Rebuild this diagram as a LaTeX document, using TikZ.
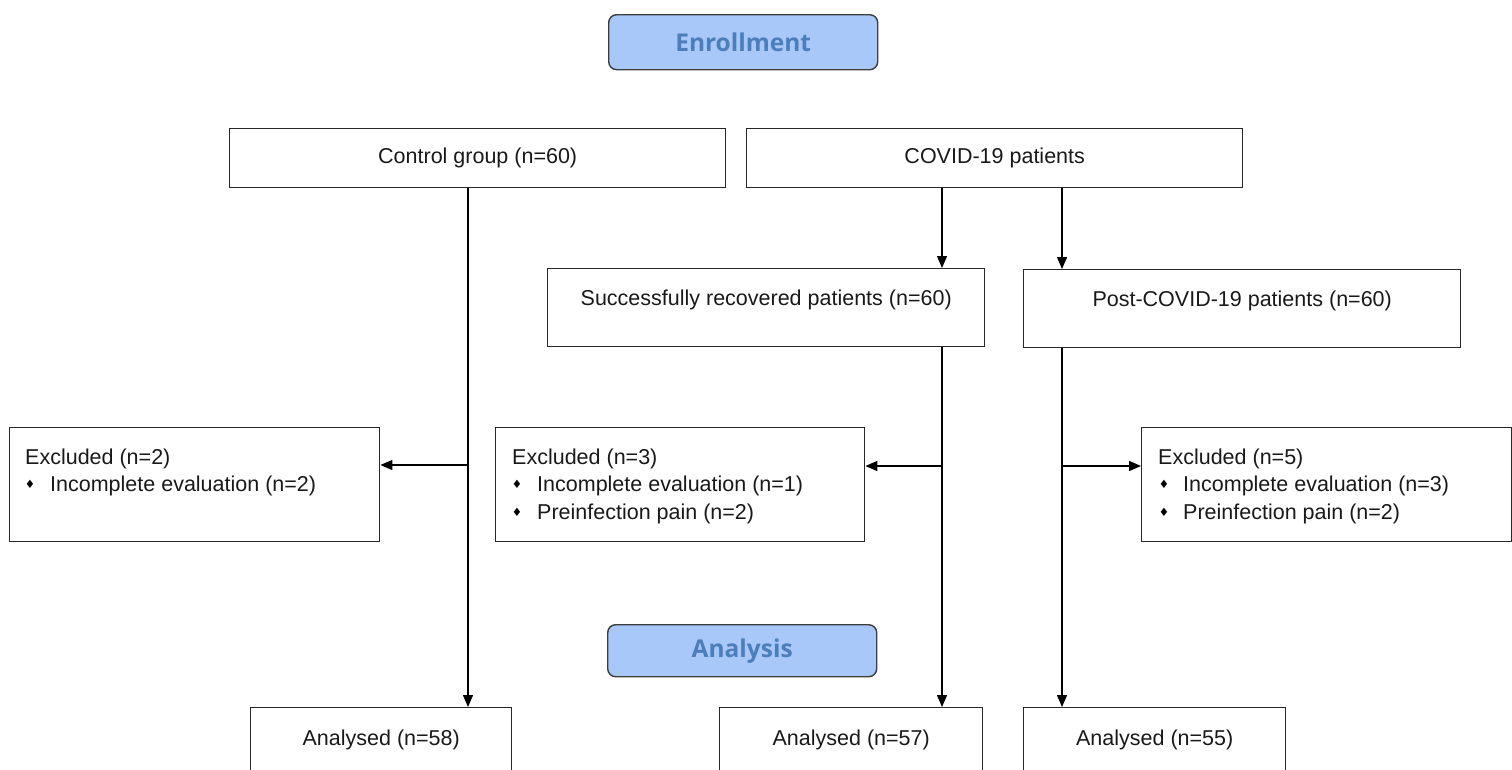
\documentclass[tikz,border=0pt]{standalone}
\usepackage{fontspec}
\setmainfont{Liberation Sans}
\newfontfamily\phasefamily{Open Sans}
\newfontfamily\dejavufam{DejaVu Sans}
\usetikzlibrary{arrows.meta,calc}
\definecolor{phasefill}{RGB}{168,200,249}
\definecolor{phasetext}{RGB}{76,126,186}
\definecolor{boxline}{RGB}{40,40,40}
\definecolor{maintext}{RGB}{25,25,25}
\newcommand\mainfs{\fontsize{21.5}{26}\selectfont}
\newcommand\bulletmark{{\dejavufam\fontsize{11.5}{12}\selectfont ♦}}
\begin{document}
\begin{tikzpicture}[x=1pt,y=-1pt,
  box/.style={draw=boxline, line width=1.4pt, inner sep=0pt, anchor=north west, font=\mainfs, text=maintext},
  phase/.style={draw=boxline!90, line width=1.4pt, fill=phasefill, rounded corners=8pt,
     inner sep=0pt, anchor=north west, text=phasetext, font=\phasefamily\bfseries\fontsize{24.5}{28}\selectfont},
  txt/.style={inner sep=0pt, anchor=base west, font=\mainfs, text=maintext},
  bul/.style={inner sep=0pt, anchor=center},
  arr/.style={draw=black, line width=1.4pt, -{Triangle[length=12pt,width=10pt]}},
  ln/.style={draw=black, line width=1.4pt}]
\useasboundingbox (0,0) rectangle (1512,769);
\clip (0,0) rectangle (1512,769);

% phase headers
\node[phase, minimum width=269pt, minimum height=55pt] (enr) at (608,14) {Enrollment};
\node[phase, minimum width=269pt, minimum height=52pt] (ana) at (607,624) {Analysis};

% main boxes
\node[box, minimum width=496pt, minimum height=59pt] (ctrl) at (229,128) {Control group (n=60)};
\node[box, minimum width=496pt, minimum height=59pt] (covid) at (746,128) {COVID-19 patients};
\node[box, minimum width=437pt, minimum height=78pt] (succ) at (547,268) {};
\node[inner sep=0pt, font=\mainfs, text=maintext] (succt) at ($(succ.center)+(0,-8)$) {Successfully recovered patients (n=60)};
\node[box, minimum width=437pt, minimum height=78pt] (post) at (1023,269) {};
\node[inner sep=0pt, font=\mainfs, text=maintext] (postt) at ($(post.center)+(0,-8)$) {Post-COVID-19 patients (n=60)};

% excluded boxes
\node[box, minimum width=370pt, minimum height=114pt] (ex1) at (9,427) {};
\node[txt] (ex1a) at ($(ex1.north west)+(16,37)$) {Excluded (n=2)};
\node[bul] (ex1bb) at ($(ex1.north west)+(21,57.5)$) {\bulletmark};
\node[txt] (ex1b) at ($(ex1.north west)+(41,64.5)$) {Incomplete evaluation (n=2)};

\node[box, minimum width=369pt, minimum height=114pt] (ex2) at (495,427) {};
\node[txt] (ex2a) at ($(ex2.north west)+(17,37)$) {Excluded (n=3)};
\node[bul] (ex2bb) at ($(ex2.north west)+(22,57.5)$) {\bulletmark};
\node[txt] (ex2b) at ($(ex2.north west)+(42,64.5)$) {Incomplete evaluation (n=1)};
\node[bul] (ex2cb) at ($(ex2.north west)+(22,85)$) {\bulletmark};
\node[txt] (ex2c) at ($(ex2.north west)+(42,92)$) {Preinfection pain (n=2)};

\node[box, minimum width=370pt, minimum height=114pt] (ex3) at (1141,427) {};
\node[txt] (ex3a) at ($(ex3.north west)+(17,37)$) {Excluded (n=5)};
\node[bul] (ex3bb) at ($(ex3.north west)+(23,57.5)$) {\bulletmark};
\node[txt] (ex3b) at ($(ex3.north west)+(42,64.5)$) {Incomplete evaluation (n=3)};
\node[bul] (ex3cb) at ($(ex3.north west)+(23,85)$) {\bulletmark};
\node[txt] (ex3c) at ($(ex3.north west)+(42,92)$) {Preinfection pain (n=2)};

% analysed boxes
\node[box, minimum width=261pt, minimum height=64pt] (an1) at (250,707) {Analysed (n=58)};
\node[box, minimum width=263pt, minimum height=64pt] (an2) at (719,707) {Analysed (n=57)};
\node[box, minimum width=262pt, minimum height=64pt] (an3) at (1023,707) {Analysed (n=55)};

% connector guides
\coordinate (c1) at (468,0);
\coordinate (c2) at (942,0);
\coordinate (c3) at (1062,0);
\coordinate (b1) at (468,465);
\coordinate (b2) at (942,466);
\coordinate (b3) at (1062,466);

% connectors
\draw[arr] (ctrl.south -| c1) -- (an1.north -| c1);
\draw[arr] (b1) -- (b1 -| ex1.east);
\draw[arr] (covid.south -| c2) -- (succ.north -| c2);
\draw[arr] (covid.south -| c3) -- (post.north -| c3);
\draw[arr] (succ.south -| c2) -- (an2.north -| c2);
\draw[arr] (b2) -- (b2 -| ex2.east);
\draw[arr] (post.south -| c3) -- (an3.north -| c3);
\draw[arr] (b3) -- (b3 -| ex3.west);
\end{tikzpicture}
\end{document}
